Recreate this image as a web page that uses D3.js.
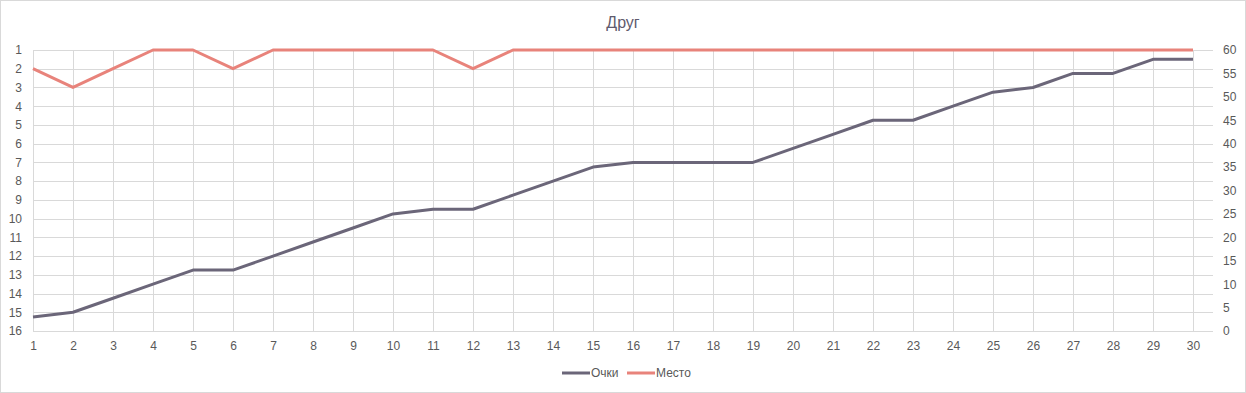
<!DOCTYPE html>
<html>
<head>
 <meta charset="utf-8">
 <title>Друг</title>
 <script src="https://d3js.org/d3.v7.min.js"></script>
 <style>
   body { margin: 0; background: #fff; }
   text { font-family: "Liberation Sans", "DejaVu Sans", sans-serif; }
 </style>
</head>
<body>
 <div id="chart"></div>
 <script>
   // rounds 1..30
   const rounds = d3.range(1, 31);
   // points (right axis)
   const points = [3, 4, 7, 10, 13, 13, 16, 19, 22, 25, 26, 26, 29, 32, 35, 36, 36, 36, 36, 39,
                   42, 45, 45, 48, 51, 52, 55, 55, 58, 58];
   // place in table (left axis, reversed)
   const places = [2, 3, 2, 1, 1, 2, 1, 1, 1, 1, 1, 2, 1, 1, 1, 1, 1, 1, 1, 1,
                   1, 1, 1, 1, 1, 1, 1, 1, 1, 1];
   const placeTicks = d3.range(1, 17);
   const pointTicks = d3.range(0, 61, 5);
   const seriesNames = ['Очки', 'Место'];
   const title = 'Друг';

   const W = 1246, H = 393;
   const colPoints = '#6b6679', colPlace = '#e8837b';
   const gridCol = '#d9d9d9', labelCol = '#595959';

   const svg = d3.select('#chart').append('svg')
     .attr('width', W)
     .attr('height', H);

   svg.append('rect')
     .attr('x', 0.5).attr('y', 0.5)
     .attr('width', W - 1).attr('height', H - 1)
     .attr('fill', '#fff')
     .attr('stroke', '#d9d9d9');

   const pLeft = 33, pRight = 1213, pTop = 50, pBottom = 331;

   let x = d3.scalePoint().domain(rounds).range([pLeft, 1193]);
   let yPlace = d3.scaleLinear().domain([1, 16]).range([pTop, pBottom]);
   let yPoints = d3.scaleLinear().domain([0, 60]).range([pBottom, pTop]);

   // horizontal grid (from left axis)
   svg.append('g').selectAll('line')
     .data(placeTicks)
     .enter()
     .append('line')
     .attr('x1', pLeft).attr('x2', pRight)
     .attr('y1', d => Math.round(yPlace(d)) + 0.5)
     .attr('y2', d => Math.round(yPlace(d)) + 0.5)
     .attr('stroke', gridCol);

   // vertical grid
   svg.append('g').selectAll('line')
     .data(rounds)
     .enter()
     .append('line')
     .attr('x1', d => Math.round(x(d)) + 0.5)
     .attr('x2', d => Math.round(x(d)) + 0.5)
     .attr('y1', pTop).attr('y2', pBottom)
     .attr('stroke', gridCol);

   // axis labels
   const leftAxis = d3.axisLeft(yPlace).tickValues(placeTicks).tickSize(0).tickPadding(11);
   const gl = svg.append('g').attr('transform', `translate(${pLeft},0)`).call(leftAxis);
   const rightAxis = d3.axisRight(yPoints).tickValues(pointTicks).tickSize(0).tickPadding(10);
   const gr = svg.append('g').attr('transform', `translate(${pRight},0)`).call(rightAxis);
   const bottomAxis = d3.axisBottom(x).tickSize(0).tickPadding(10);
   const gb = svg.append('g').attr('transform', `translate(0,${pBottom})`).call(bottomAxis);

   [gl, gr, gb].forEach(g => {
     g.select('.domain').remove();
     g.selectAll('text')
       .attr('fill', labelCol)
       .style('font-size', '12px');
   });

   // lines
   const linePoints = d3.line()
     .x((d, i) => x(rounds[i]))
     .y(d => yPoints(d));
   const linePlace = d3.line()
     .x((d, i) => x(rounds[i]))
     .y(d => yPlace(d));

   svg.append('path')
     .datum(points)
     .attr('d', linePoints)
     .attr('fill', 'none')
     .attr('stroke', colPoints)
     .attr('stroke-width', 3)
     .attr('stroke-linejoin', 'round');

   svg.append('path')
     .datum(places)
     .attr('d', linePlace)
     .attr('fill', 'none')
     .attr('stroke', colPlace)
     .attr('stroke-width', 3)
     .attr('stroke-linejoin', 'round');

   // title
   svg.append('text')
     .attr('x', 623).attr('y', 28)
     .attr('text-anchor', 'middle')
     .attr('fill', '#5f5b6e')
     .style('font-size', '16px')
     .text(title);

   // legend
   const legend = svg.append('g');
   const legendItems = [
     { name: seriesNames[0], color: colPoints, x: 562 },
     { name: seriesNames[1], color: colPlace, x: 627 }
   ];
   legendItems.forEach(it => {
     legend.append('line')
       .attr('x1', it.x).attr('x2', it.x + 28)
       .attr('y1', 373).attr('y2', 373)
       .attr('stroke', it.color)
       .attr('stroke-width', 3);
     legend.append('text')
       .attr('x', it.x + 29).attr('y', 377)
       .attr('fill', labelCol)
       .style('font-size', '12px')
       .text(it.name);
   });
 </script>
</body>
</html>
